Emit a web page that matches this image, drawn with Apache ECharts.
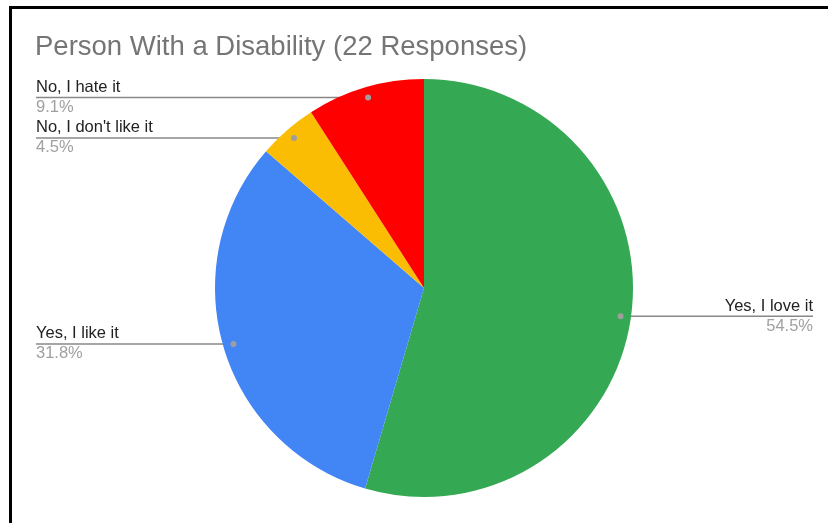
<!DOCTYPE html>
<html>
<head>
<meta charset="utf-8">
<script src="https://cdn.jsdelivr.net/npm/echarts@6/dist/echarts.min.js"></script>
<style>
  html, body { margin: 0; padding: 0; background: #fff; }
  #chart { position: absolute; left: 0; top: 0; width: 828px; height: 523px; }
  #frame { position: absolute; left: 9px; top: 6px; width: 830px; height: 530px;
           border-left: 3px solid #000; border-top: 3px solid #000; pointer-events: none; }
</style>
</head>
<body>
<div id="chart"></div>
<div id="frame"></div>
<script>
const titleText = 'Person With a Disability (22 Responses)';
const categories = ['Yes, I love it', 'Yes, I like it', "No, I don't like it", 'No, I hate it'];
const values = [12, 7, 1, 2];
const colors = ['#34a853', '#4285f4', '#fbbc04', '#ff0000'];

const CX = 424, CY = 288, R = 209;
const LEFT_EDGE = 36, RIGHT_EDGE = 813;
const total = values.reduce((a, b) => a + b, 0);
const pct = v => (v / total * 100).toFixed(1) + '%';

function midAngle(i) {
  let before = 0;
  for (let k = 0; k < i; k++) before += values[k];
  return (before + values[i] / 2) / total * 2 * Math.PI;
}

const data = categories.map((c, i) => ({ name: c, value: values[i], itemStyle: { color: colors[i] } }));
const FONT = '"Liberation Sans", Arial, sans-serif';

const chart = echarts.init(document.getElementById('chart'), null, { renderer: 'canvas' });
chart.setOption({
  animation: false,
  title: {
    text: titleText, left: 35, top: 33, padding: 0,
    textStyle: { fontFamily: FONT, fontSize: 27.5, fontWeight: 'normal', color: '#757575' }
  },
  series: [
    {
      type: 'pie',
      center: [CX, CY],
      radius: [0, R],
      startAngle: 90,
      clockwise: true,
      silent: true,
      data: data,
      label: {
        show: true,
        position: 'outside',
        formatter: p => '{n|' + p.name + '}\n{p|' + pct(p.value) + '}',
        rich: {
          n: { fontFamily: FONT, fontSize: 16.5, color: '#222222', lineHeight: 20 },
          p: { fontFamily: FONT, fontSize: 16.5, color: '#a0a0a0', lineHeight: 20 }
        }
      },
      labelLine: { show: true, lineStyle: { color: '#888888', width: 1.4 } },
      labelLayout: function (params) {
        const a = midAngle(params.dataIndex);
        const sx = CX + 0.95 * R * Math.sin(a);
        const sy = CY - 0.95 * R * Math.cos(a);
        const isLeft = Math.sin(a) < 0;
        const ex = isLeft ? LEFT_EDGE : RIGHT_EDGE;
        return {
          x: ex, y: sy,
          align: isLeft ? 'left' : 'right',
          verticalAlign: 'middle',
          labelLinePoints: [[sx, sy], [(sx + ex) / 2, sy], [ex, sy]]
        };
      }
    },
    {
      type: 'pie',
      center: [CX, CY],
      radius: [R * 0.9 - 3, R - 3],
      startAngle: 90,
      clockwise: true,
      silent: true,
      z: 3,
      data: categories.map((c, i) => ({ name: c, value: values[i] })),
      itemStyle: { color: 'rgba(0,0,0,0)' },
      labelLine: { show: false },
      label: {
        show: true, position: 'inside',
        verticalAlign: 'middle', align: 'center',
        formatter: ' ',
        fontSize: 1, lineHeight: 6, width: 6, height: 6, padding: 0,
        borderRadius: 3, backgroundColor: '#9e9e9e'
      }
    }
  ]
});
</script>
</body>
</html>
